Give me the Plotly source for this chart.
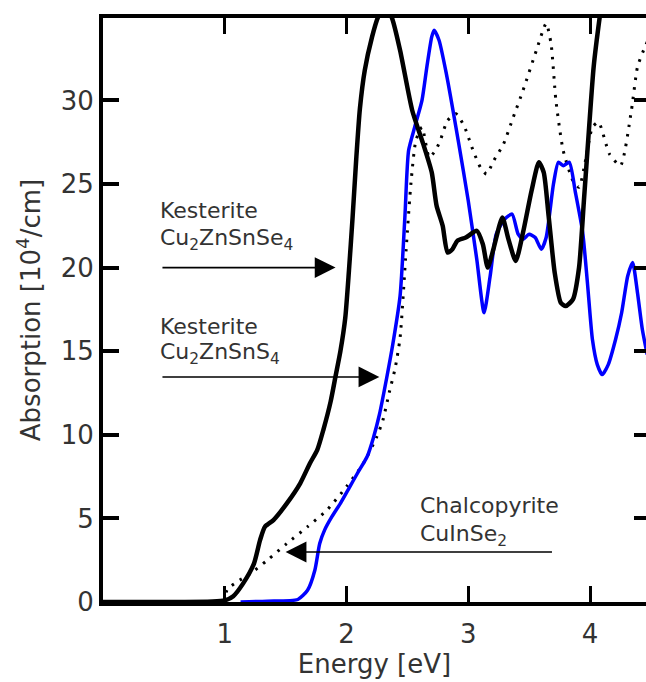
import plotly.graph_objects as go

# ---- data ----
cztse_x = [0.0, 0.5, 0.9, 1.0, 1.07, 1.15, 1.24, 1.29, 1.33, 1.40, 1.51, 1.62, 1.70, 1.76, 1.81,
           1.87, 1.91, 1.95, 1.99, 2.02, 2.05, 2.08, 2.11, 2.15, 2.21, 2.26, 2.31, 2.37, 2.44, 2.54,
           2.63, 2.70, 2.74, 2.79, 2.83, 2.87, 2.91, 2.98, 3.07, 3.12, 3.16, 3.21, 3.28, 3.33,
           3.39, 3.45, 3.52, 3.58, 3.62, 3.66, 3.71, 3.76, 3.80, 3.86, 3.91, 3.95, 3.99, 4.03,
           4.08, 4.12]
cztse_y = [0.0, 0.0, 0.03, 0.1, 0.35, 1.1, 2.3, 3.7, 4.5, 4.9, 5.9, 7.1, 8.3, 9.1, 10.3,
           12.0, 13.5, 15.0, 17.0, 19.8, 23.0, 26.5, 29.5, 31.8, 33.8, 35.0, 35.6, 35.0, 33.0, 29.4,
           27.4, 25.7, 23.7, 22.5, 20.9, 21.1, 21.6, 21.8, 22.2, 21.4, 20.0, 21.2, 23.0, 21.7,
           20.4, 22.1, 24.6, 26.3, 25.7, 23.1, 19.7, 17.9, 17.7, 18.1, 20.0, 24.0, 28.1, 32.0,
           35.0, 37.0]

czts_x = [1.13, 1.35, 1.60, 1.68, 1.74, 1.78, 1.82, 1.88, 1.95, 2.02, 2.09, 2.17, 2.22, 2.27,
          2.33, 2.38, 2.44, 2.48, 2.51, 2.56, 2.62, 2.66, 2.70, 2.72, 2.76, 2.82, 2.92,
          3.00, 3.07, 3.13, 3.18, 3.23, 3.30, 3.36, 3.41, 3.45, 3.50, 3.55, 3.60, 3.64, 3.70,
          3.74, 3.78, 3.83, 3.88, 3.94, 3.98, 4.02, 4.06, 4.10, 4.15, 4.21, 4.26, 4.31, 4.35,
          4.39, 4.43, 4.47]
czts_y = [0.0, 0.05, 0.15, 0.7, 1.9, 3.5, 4.3, 5.1, 5.9, 6.8, 7.7, 8.7, 9.8, 11.2,
          13.4, 15.4, 18.3, 23.1, 27.0, 28.4, 30.0, 32.0, 33.8, 34.2, 33.6, 31.6, 27.5,
          24.0, 20.5, 17.3, 19.5, 22.0, 22.9, 23.2, 22.0, 21.7, 22.0, 21.8, 21.1, 21.8, 25.0,
          26.3, 26.1, 26.3, 24.5, 22.1, 19.0, 15.7, 14.2, 13.6, 14.2, 15.7, 17.3, 19.5, 20.3,
          18.5, 16.3, 14.8]

cis_x = [1.0, 1.02, 1.10, 1.21, 1.35, 1.51, 1.68, 1.84, 2.00, 2.14, 2.25, 2.30,
         2.35, 2.40, 2.44, 2.49, 2.53, 2.57, 2.62, 2.68, 2.73, 2.77, 2.83, 2.90,
         2.97, 3.04, 3.10, 3.15, 3.21, 3.29, 3.37, 3.45, 3.56, 3.64, 3.68, 3.72, 3.78, 3.86,
         3.91, 3.96, 4.02, 4.07, 4.16, 4.25, 4.34, 4.39, 4.44, 4.47]
cis_y = [0.0, 0.75, 1.2, 1.7, 2.5, 3.5, 4.5, 5.5, 6.9, 8.3, 9.9, 10.9,
         12.5, 14.0, 15.8, 21.1, 25.1, 27.6, 28.4, 26.6, 27.0, 27.6, 28.8, 29.2,
         28.4, 27.0, 26.0, 25.6, 26.4, 27.4, 29.0, 30.6, 33.0, 34.6, 33.4, 30.0, 27.0, 25.2,
         24.8, 26.3, 28.4, 28.7, 26.8, 26.1, 29.4, 32.0, 33.0, 33.5]

x_ticks = [1, 2, 3, 4]
y_ticks = [0, 5, 10, 15, 20, 25, 30]
x_range = [0, 4.46]
y_range = [0, 34.93]

labels = [
    # (text, x, y)
    ("Kesterite", 0.455, 23.4),
    ("Cu<sub>2</sub>ZnSnSe<sub>4</sub>", 0.455, 21.7),
    ("Kesterite", 0.455, 16.5),
    ("Cu<sub>2</sub>ZnSnS<sub>4</sub>", 0.455, 14.85),
    ("Chalcopyrite", 2.59, 5.8),
    ("CuInSe<sub>2</sub>", 2.59, 4.0),
]
arrows = [
    # (tail_x, tail_y, head_x, head_y)
    (0.476, 20.0, 1.91, 20.0),
    (0.476, 13.46, 2.27, 13.46),
    (3.70, 2.99, 1.50, 2.99),
]

FONT = "DejaVu Sans"
TXT = "#333333"

fig = go.Figure()
fig.add_trace(go.Scatter(x=cis_x, y=cis_y, mode="lines",
                         line=dict(color="black", width=3, dash="2.5px,7px", shape="spline", smoothing=0.6),
                         hoverinfo="skip", showlegend=False))
fig.add_trace(go.Scatter(x=czts_x, y=czts_y, mode="lines",
                         line=dict(color="#0000ff", width=3.5, shape="spline", smoothing=0.6),
                         hoverinfo="skip", showlegend=False))
fig.add_trace(go.Scatter(x=cztse_x, y=cztse_y, mode="lines",
                         line=dict(color="black", width=4.5, shape="spline", smoothing=0.6),
                         hoverinfo="skip", showlegend=False))
# dummy trace for the right-hand tick axis
fig.add_trace(go.Scatter(x=[None], y=[None], yaxis="y2", showlegend=False, hoverinfo="skip"))

for t, x, y in labels:
    fig.add_annotation(x=x, y=y, text=t, showarrow=False, xanchor="left", yanchor="middle",
                       font=dict(family=FONT, size=22, color=TXT))
for tx, ty, hx, hy in arrows:
    fig.add_annotation(x=hx, y=hy, ax=tx, ay=ty, axref="x", ayref="y", xref="x", yref="y",
                       text="", showarrow=True, arrowhead=2, arrowwidth=1.6, arrowsize=2.6,
                       arrowcolor="black", standoff=0)

fig.update_layout(
    width=646, height=682,
    margin=dict(l=103, r=0, t=18, b=80),
    paper_bgcolor="white", plot_bgcolor="white",
    font=dict(family=FONT, size=26, color=TXT),
    xaxis=dict(range=x_range, tickvals=x_ticks, ticktext=[str(v) for v in x_ticks],
               ticks="inside", ticklen=16, tickwidth=3, tickcolor="black",
               showline=True, linewidth=4, linecolor="black", mirror="ticks",
               showgrid=False, zeroline=False, ticklabelstandoff=6,
               title=dict(text="Energy [eV]", standoff=0, font=dict(size=26, color=TXT)),
               tickfont=dict(size=26, color=TXT)),
    yaxis=dict(range=y_range, tickvals=y_ticks, ticktext=[str(v) for v in y_ticks],
               ticks="inside", ticklen=16, tickwidth=4, tickcolor="black",
               showline=True, linewidth=4, linecolor="black",
               showgrid=False, zeroline=False,
               title=dict(text="Absorption [10<sup>4</sup>/cm]", standoff=14, font=dict(size=26, color=TXT)),
               tickfont=dict(size=26, color=TXT)),
    yaxis2=dict(range=y_range, tickvals=y_ticks, overlaying="y", side="right",
                ticks="inside", ticklen=12, tickwidth=4, tickcolor="black",
                showline=False, showgrid=False, zeroline=False, showticklabels=False),
)

fig.write_html("out.html", config={"displayModeBar": False},
               post_script="document.body.style.margin='0';document.body.style.overflow='hidden';")
